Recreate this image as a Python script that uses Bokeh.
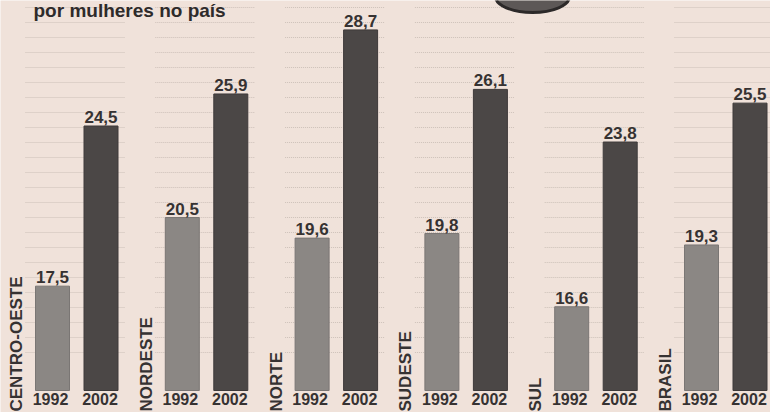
import numpy as np
from bokeh.plotting import figure
from bokeh.models import Range1d, ColumnDataSource
from bokeh.core.properties import value
from bokeh.embed import file_html
from bokeh.resources import INLINE

# ---- data ----
title_text = "por mulheres no país"
regions = ["CENTRO-OESTE", "NORDESTE", "NORTE", "SUDESTE", "SUL", "BRASIL"]
years = ["1992", "2002"]
v1992 = [17.5, 20.5, 19.6, 19.8, 16.6, 19.3]
v2002 = [24.5, 25.9, 28.7, 26.1, 23.8, 25.5]

# ---- styling / scale ----
PAPER = "#f0e2da"
C1992 = "#8b8784"
C2002 = "#4b4746"
TXT = "#363232"
BASE = 12.94          # value at bar bottom
PXU = 22.88           # px per value unit (reference)
GX = 129.8            # px per group (reference)
W, H = 770, 412

def fmt(v):
    return f"{v:.1f}".replace(".", ",")

g = np.arange(len(regions), dtype=float)
x92 = g
x02 = g + 48.5 / GX
xlab = g - 36 / GX
bar_w = 34 / GX

p = figure(width=W, height=H,
           x_range=Range1d(-52 / GX, (W - 52) / GX),
           y_range=Range1d(BASE - (H - 390) / PXU, BASE + 390 / PXU),
           output_backend="svg", toolbar_location=None, min_border=0)
p.axis.visible = False
p.grid.visible = False
p.outline_line_color = None
p.background_fill_color = PAPER
p.border_fill_color = PAPER

# faint dotted rules within each group
top_level = BASE + 383 / PXU
levels = [top_level - k * 15 / PXU for k in range(24)]
gx0, gx1, gy = [], [], []
for gi in g:
    for lv in levels:
        gx0.append(gi - 27 / GX)
        gx1.append(gi + 73 / GX)
        gy.append(lv)
p.segment(x0=gx0, x1=gx1, y0=gy, y1=gy, line_color="#cdc0b9",
          line_width=1, line_dash="1 1")

src = ColumnDataSource(dict(
    x92=x92, x02=x02, xlab=xlab, v92=v1992, v02=v2002,
    l92=[fmt(v) for v in v1992], l02=[fmt(v) for v in v2002],
    reg=regions, y92=[years[0]] * len(regions), y02=[years[1]] * len(regions),
))

p.vbar(x="x92", top="v92", bottom=BASE, width=bar_w, source=src,
       fill_color=C1992, line_color="#7a7674", line_width=1)
p.vbar(x="x02", top="v02", bottom=BASE, width=bar_w, source=src,
       fill_color=C2002, line_color="#3e3a3a", line_width=1)

vfont = dict(text_font=value("Liberation Sans"), text_font_style="bold",
             text_color=TXT)
p.text(x="x92", y="v92", text="l92", source=src, text_align="center",
       text_baseline="bottom", y_offset=-3, text_font_size="17px", **vfont)
p.text(x="x02", y="v02", text="l02", source=src, text_align="center",
       text_baseline="bottom", y_offset=-3, text_font_size="17px", **vfont)

p.text(x="x92", y=BASE, text="y92", source=src, text_align="center",
       text_baseline="top", y_offset=2, x_offset=-2, text_font_size="16px", **vfont)
p.text(x="x02", y=BASE, text="y02", source=src, text_align="center",
       text_baseline="top", y_offset=2, x_offset=-1, text_font_size="16px", **vfont)

p.text(x="xlab", y=BASE - 21 / PXU, text="reg", source=src, angle=np.pi / 2,
       text_align="left", text_baseline="middle", text_font_size="17px", **vfont)

# title fragment at the top
p.text(x=[(33 - 52) / GX], y=[BASE + 390 / PXU], text=[title_text],
       text_align="left", text_baseline="top", y_offset=-1, text_font_size="19px",
       text_font=value("Liberation Sans"), text_font_style="bold",
       text_color="#2e2b2b")

# decorative dark shape at top (illustration fragment)
p.ellipse(x=[(532 - 52) / GX], y=[BASE + 394 / PXU], width=74, height=32,
          width_units="screen", height_units="screen",
          fill_color="#5d5857", line_color="#2c2929", line_width=3)

open("out.html", "w").write(file_html(p, INLINE))
